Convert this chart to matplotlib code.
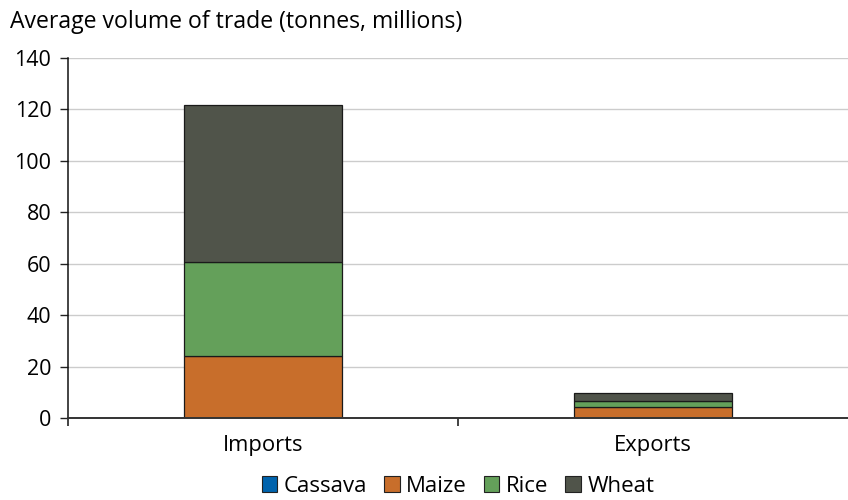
import numpy as np
import matplotlib.pyplot as plt
from matplotlib.patches import Patch

# Trade volumes, tonnes (millions)
flows = ["Imports", "Exports"]
crops = ["Cassava", "Maize", "Rice", "Wheat"]
cassava = [0.0, 0.0]
maize = [24.0, 4.3]
rice = [36.7, 2.3]
wheat = [61.0, 3.0]

colors = ["#0063ad", "#c86e2b", "#64a05a", "#50544a"]

plt.rcParams["font.family"] = ["Open Sans", "DejaVu Sans"]

fig = plt.figure(figsize=(8.48, 5.0), dpi=100)
ax = fig.add_axes([68 / 848, 1 - 418 / 500, 1 - 68 / 848, 360 / 500])

x = np.arange(len(flows))
bottom = np.zeros(len(flows))
for vals, c in zip([cassava, maize, rice, wheat], colors):
    ax.bar(x, vals, width=0.405, bottom=bottom, color=c,
           edgecolor="#1a1a1a", linewidth=0.9, zorder=3)
    bottom += np.array(vals)

ax.set_xlim(-0.5, 1.5)
ax.set_ylim(0, 140)
ax.set_yticks(range(0, 141, 20))
ax.tick_params(axis="y", labelsize=15.5, length=6, width=1, color="#222222",
               direction="out", pad=6)
ax.yaxis.grid(True, color="#cccccc", linewidth=1, zorder=0)

# category labels centred, ticks on the boundaries
ax.set_xticks(x)
ax.set_xticklabels(flows, fontsize=15.8)
ax.tick_params(axis="x", length=0, pad=12)
ax.set_xticks([-0.5, 0.5], minor=True)
ax.tick_params(axis="x", which="minor", length=6, width=1.2, color="#222222")

for s in ["top", "right"]:
    ax.spines[s].set_visible(False)
ax.spines["left"].set_color("#111111")
ax.spines["left"].set_linewidth(1.1)
ax.spines["bottom"].set_color("#333333")
ax.spines["bottom"].set_linewidth(1.4)
ax.spines["bottom"].set_zorder(4)

fig.text(10 / 848, 1 - 28 / 500, "Average volume of trade (tonnes, millions)",
         fontsize=16.6, va="baseline", ha="left")

handles = [Patch(facecolor=c, edgecolor="#222222", linewidth=0.8, label=n)
           for c, n in zip(colors, crops)]
fig.legend(handles=handles, loc="center", bbox_to_anchor=(458 / 848, 1 - 486 / 500),
           ncol=4, frameon=False, fontsize=16, handlelength=0.7, handleheight=0.7,
           handletextpad=0.3, columnspacing=0.75, borderpad=0)

fig.savefig("out.png", dpi=100)
